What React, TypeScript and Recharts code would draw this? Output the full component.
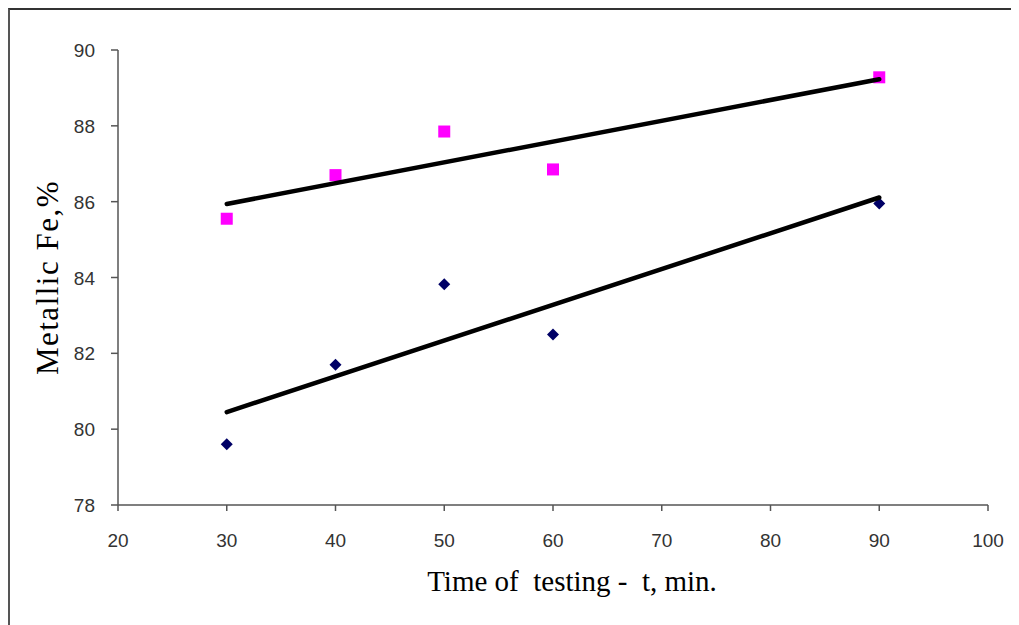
import React from "react";
import { ScatterChart, Scatter, XAxis, YAxis, Label } from "recharts";

const timesMin = [30, 40, 50, 60, 90];
const pinkValues = [85.55, 86.7, 87.85, 86.85, 89.28];
const navyValues = [79.6, 81.7, 83.82, 82.5, 85.95];
const trendX = [30, 90];
const pinkTrend = [85.94, 89.23];
const navyTrend = [80.45, 86.11];
const xTicks = [20, 30, 40, 50, 60, 70, 80, 90, 100];
const yTicks = [78, 80, 82, 84, 86, 88, 90];

const pinkData = timesMin.map((t, i) => ({ x: t, y: pinkValues[i] }));
const navyData = timesMin.map((t, i) => ({ x: t, y: navyValues[i] }));
const pinkTrendData = trendX.map((t, i) => ({ x: t, y: pinkTrend[i] }));
const navyTrendData = trendX.map((t, i) => ({ x: t, y: navyTrend[i] }));

const Square = (props: any) => {
  const { cx, cy } = props;
  if (cx == null || cy == null) return <g />;
  return <rect x={cx - 6} y={cy - 6} width={12} height={12} fill="#FF00FF" />;
};

const Diamond = (props: any) => {
  const { cx, cy } = props;
  if (cx == null || cy == null) return <g />;
  const r = 6;
  return (
    <polygon
      points={`${cx},${cy - r} ${cx + r},${cy} ${cx},${cy + r} ${cx - r},${cy}`}
      fill="#000066"
    />
  );
};

const NoShape = () => <g />;

const XTick = (props: any) => {
  const { x, y, payload } = props;
  return (
    <text
      x={x}
      y={y + 14}
      textAnchor="middle"
      fontFamily="'Liberation Sans', Arial, sans-serif"
      fontSize={19}
      fill="#333"
    >
      {payload.value}
    </text>
  );
};

const YTick = (props: any) => {
  const { x, y, payload } = props;
  return (
    <text
      x={x}
      y={y + 7}
      textAnchor="end"
      fontFamily="'Liberation Sans', Arial, sans-serif"
      fontSize={19}
      fill="#333"
    >
      {payload.value}
    </text>
  );
};

const XTitle = (props: any) => {
  const vb = props.viewBox || {};
  const x = vb.x + vb.width / 2 + 19;
  const y = vb.y + 86;
  return (
    <text
      x={x}
      y={y}
      textAnchor="middle"
      style={{ whiteSpace: "pre" }}
      fontFamily="'Liberation Serif', 'Times New Roman', serif"
      fontSize={29}
      fill="#000"
    >
      {"Time of  testing -  t, min."}
    </text>
  );
};

const YTitle = (props: any) => {
  const vb = props.viewBox || {};
  const x = 48;
  const y = vb.y + vb.height / 2;
  return (
    <text
      x={x}
      y={y}
      textAnchor="middle"
      transform={`rotate(-90, ${x}, ${y})`}
      fontFamily="'Liberation Serif', 'Times New Roman', serif"
      fontSize={31}
      letterSpacing={1.5}
      fill="#000"
    >
      Metallic Fe,%
    </text>
  );
};

export default function App() {
  return (
    <div
      style={{
        borderTop: "2px solid #333",
        borderLeft: "2px solid #555",
        width: 1009,
        height: 615,
        background: "#fff",
      }}
    >
      <ScatterChart
        width={1009}
        height={615}
        margin={{ top: 40, right: 31, bottom: 0, left: 0 }}
      >
        <XAxis
          type="number"
          dataKey="x"
          domain={[20, 100]}
          ticks={xTicks}
          interval={0}
          height={120}
          tickSize={6}
          tickMargin={22}
          axisLine={{ stroke: "#555", strokeWidth: 1.5 }}
          tickLine={{ stroke: "#555", strokeWidth: 1.5 }}
          tick={<XTick />}
          allowDataOverflow
        >
          <Label content={<XTitle />} />
        </XAxis>
        <YAxis
          type="number"
          dataKey="y"
          domain={[78, 90]}
          ticks={yTicks}
          interval={0}
          width={108}
          tickSize={7}
          tickMargin={16}
          axisLine={{ stroke: "#555", strokeWidth: 1.5 }}
          tickLine={{ stroke: "#555", strokeWidth: 1.5 }}
          tick={<YTick />}
          allowDataOverflow
        >
          <Label content={<YTitle />} />
        </YAxis>
        <Scatter
          name="pink"
          data={pinkData}
          shape={<Square />}
          isAnimationActive={false}
        />
        <Scatter
          name="navy"
          data={navyData}
          shape={<Diamond />}
          isAnimationActive={false}
        />
        <Scatter
          name="pinkTrend"
          data={pinkTrendData}
          shape={<NoShape />}
          line={{ stroke: "#000", strokeWidth: 4.5, strokeLinecap: "round" }}
          isAnimationActive={false}
        />
        <Scatter
          name="navyTrend"
          data={navyTrendData}
          shape={<NoShape />}
          line={{ stroke: "#000", strokeWidth: 4.5, strokeLinecap: "round" }}
          isAnimationActive={false}
        />
      </ScatterChart>
    </div>
  );
}
